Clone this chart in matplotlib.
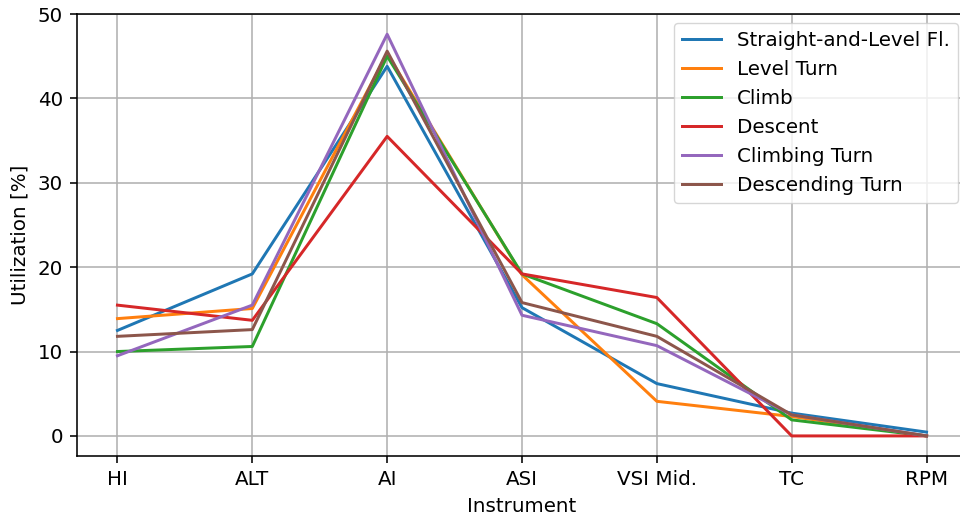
import matplotlib
matplotlib.use("Agg")
import matplotlib.pyplot as plt

instruments = ["HI", "ALT", "AI", "ASI", "VSI Mid.", "TC", "RPM"]
straight_level = [12.5, 19.2, 43.8, 15.2, 6.2, 2.7, 0.45]
level_turn = [13.9, 15.1, 45.3, 19.1, 4.1, 2.3, 0.0]
climb = [10.0, 10.6, 45.0, 19.2, 13.3, 1.9, 0.0]
descent = [15.5, 13.7, 35.5, 19.2, 16.4, 0.0, 0.0]
climbing_turn = [9.5, 15.5, 47.6, 14.3, 10.7, 2.5, 0.0]
descending_turn = [11.8, 12.6, 45.6, 15.8, 11.8, 2.5, 0.0]

series = [
    ("Straight-and-Level Fl.", straight_level),
    ("Level Turn", level_turn),
    ("Climb", climb),
    ("Descent", descent),
    ("Climbing Turn", climbing_turn),
    ("Descending Turn", descending_turn),
]

s = 1.43
plt.rcParams.update({
    "font.size": 10 * s,
    "axes.linewidth": 0.8 * s,
    "grid.linewidth": 0.8 * s,
    "xtick.major.size": 3.5 * s,
    "ytick.major.size": 3.5 * s,
    "xtick.major.width": 0.8 * s,
    "ytick.major.width": 0.8 * s,
    "xtick.major.pad": 3.5 * s,
    "ytick.major.pad": 3.5 * s,
    "axes.labelpad": 4.0 * s,
})
fig = plt.figure(figsize=(9.6, 5.18), dpi=100)
ax = fig.add_axes([77 / 960, 62 / 518, (967 - 77) / 960, (456 - 14) / 518])
x = list(range(len(instruments)))
for name, vals in series:
    ax.plot(x, vals, label=name, linewidth=1.5 * s)
ax.set_xticks(x)
ax.set_xticklabels(instruments)
ax.set_xlim(-0.3, 6.3)
ax.set_ylim(-2.38, 50)
ax.set_yticks([0, 10, 20, 30, 40, 50])
ax.grid(True)
ax.set_xlabel("Instrument")
ax.set_ylabel("Utilization [%]")
ax.legend(loc="upper right", bbox_to_anchor=(958 / 960, 1 - 23 / 518),
          bbox_transform=fig.transFigure, borderaxespad=0)
fig.savefig("out.png", dpi=100)
